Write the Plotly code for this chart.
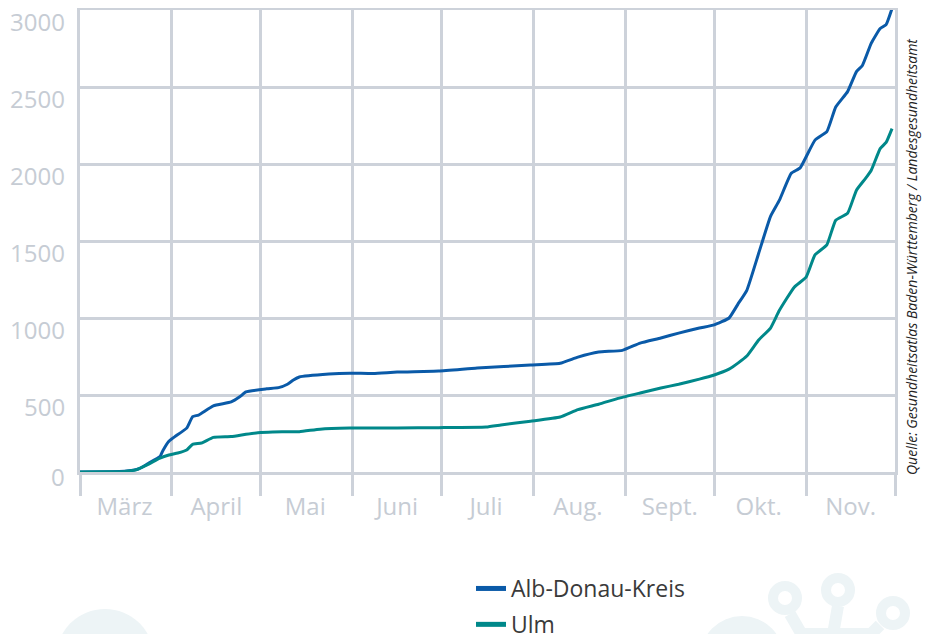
import plotly.graph_objects as go

# ---------------- data ----------------
alb_dates = ["2020-03-01", "2020-03-11", "2020-03-16", "2020-03-19", "2020-03-21", "2020-03-24",
             "2020-03-28", "2020-03-29", "2020-03-31", "2020-04-02", "2020-04-06", "2020-04-08",
             "2020-04-10", "2020-04-15", "2020-04-21", "2020-04-24", "2020-04-26", "2020-05-03",
             "2020-05-07", "2020-05-10", "2020-05-12", "2020-05-14", "2020-05-24", "2020-05-31",
             "2020-06-08", "2020-06-16", "2020-06-30", "2020-07-13", "2020-07-31", "2020-08-10",
             "2020-08-16", "2020-08-23", "2020-08-31", "2020-09-06", "2020-09-13", "2020-09-19",
             "2020-09-26", "2020-10-01", "2020-10-06", "2020-10-09", "2020-10-12", "2020-10-16",
             "2020-10-20", "2020-10-23", "2020-10-27", "2020-10-30", "2020-11-04", "2020-11-08",
             "2020-11-11", "2020-11-15", "2020-11-18", "2020-11-20", "2020-11-23", "2020-11-26",
             "2020-11-28", "2020-11-30"]
alb_values = [0, 2, 5, 12, 22, 55,
              100, 140, 200, 230, 285, 360,
              370, 430, 455, 490, 520, 540,
              548, 570, 597, 617, 636, 642,
              640, 649, 656, 675, 695, 706,
              746, 779, 790, 837, 870, 902,
              935, 955, 1000, 1090, 1180, 1420,
              1660, 1765, 1940, 1975, 2155, 2210,
              2370, 2470, 2600, 2640, 2785, 2880,
              2905, 3010]

ulm_dates = ["2020-03-01", "2020-03-11", "2020-03-16", "2020-03-20", "2020-03-24", "2020-03-28",
             "2020-03-31", "2020-04-03", "2020-04-06", "2020-04-08", "2020-04-11", "2020-04-15",
             "2020-04-21", "2020-04-26", "2020-04-30", "2020-05-05", "2020-05-14", "2020-05-21",
             "2020-05-31", "2020-06-16", "2020-06-30", "2020-07-16", "2020-07-21", "2020-07-31",
             "2020-08-10", "2020-08-16", "2020-08-23", "2020-08-30", "2020-09-06", "2020-09-13",
             "2020-09-19", "2020-09-26", "2020-10-01", "2020-10-06", "2020-10-09", "2020-10-12",
             "2020-10-16", "2020-10-20", "2020-10-23", "2020-10-28", "2020-11-01", "2020-11-04",
             "2020-11-08", "2020-11-11", "2020-11-15", "2020-11-18", "2020-11-21", "2020-11-23",
             "2020-11-26", "2020-11-28", "2020-11-30"]
ulm_values = [0, 1, 4, 15, 50, 90,
              110, 123, 143, 180, 188, 225,
              230, 245, 255, 260, 262, 278,
              285, 286, 288, 292, 305, 330,
              357, 405, 440, 480, 513, 545,
              570, 603, 630, 668, 707, 753,
              857, 935, 1050, 1200, 1265, 1410,
              1475, 1635, 1680, 1830, 1905, 1960,
              2100, 2140, 2230]

month_starts = ["2020-03-01", "2020-04-01", "2020-05-01", "2020-06-01", "2020-07-01",
                "2020-08-01", "2020-09-01", "2020-10-01", "2020-11-01", "2020-12-01"]
month_mids = ["2020-03-16", "2020-04-16", "2020-05-16", "2020-06-16", "2020-07-16",
              "2020-08-16", "2020-09-16", "2020-10-16", "2020-11-16"]
month_labels = ["März", "April", "Mai", "Juni", "Juli", "Aug.", "Sept.", "Okt.", "Nov."]
y_ticks = [0, 500, 1000, 1500, 2000, 2500, 3000]

series_names = ["Alb-Donau-Kreis", "Ulm"]
series_colors = ["#0a5aa8", "#00888a"]

# ---------------- layout constants ----------------
# page body has an 8px margin, so the figure is drawn 8px right/down in the window
OFF = 8
W, H = 931 - OFF, 634 - OFF
PL, PR, PT, PB = 80, 895, 10, 472          # plot area in window pixels
L, T = PL - OFF, PT - OFF
R, B = W - (PR - OFF), H - (PB - OFF)
PW, PH = PR - PL, PB - PT
GRID = "#cdd2da"
TICKFONT = "#c6ccd4"
DECO = "#edf4f6"


def px(x):
    return (x - PL) / PW


def py(y):
    return (PB - y) / PH


fig = go.Figure()
fig.add_trace(go.Scatter(x=alb_dates, y=alb_values, mode="lines", name=series_names[0],
                         line=dict(color=series_colors[0], width=3, shape="spline", smoothing=0.4),
                         showlegend=False))
fig.add_trace(go.Scatter(x=ulm_dates, y=ulm_values, mode="lines", name=series_names[1],
                         line=dict(color=series_colors[1], width=3, shape="spline", smoothing=0.4),
                         showlegend=False))
# legend entries (thicker line swatches)
for i, (n, c) in enumerate(zip(series_names, series_colors)):
    fig.add_trace(go.Scatter(x=[None], y=[None], mode="lines", name=n,
                             line=dict(color=c, width=5), legendgroup=f"g{i}"))

# decorative background shapes
shapes = []
r = 49
cx, cy = 105, 658
shapes.append(dict(type="circle", xref="paper", yref="paper", layer="below",
                   x0=px(cx - r), x1=px(cx + r), y0=py(cy + r), y1=py(cy - r),
                   fillcolor=DECO, line=dict(width=0)))
r = 42
cx, cy = 742, 658
shapes.append(dict(type="circle", xref="paper", yref="paper", layer="below",
                   x0=px(cx - r), x1=px(cx + r), y0=py(cy + r), y1=py(cy - r),
                   fillcolor=DECO, line=dict(width=0)))
rings = [(785, 598), (838, 590), (893, 613)]
for (cx, cy) in rings:
    rr = 12
    shapes.append(dict(type="circle", xref="paper", yref="paper", layer="below",
                       x0=px(cx - rr), x1=px(cx + rr), y0=py(cy + rr), y1=py(cy - rr),
                       fillcolor="rgba(0,0,0,0)", line=dict(color=DECO, width=10)))
stems = [((790, 614), (805, 640)), ((838, 606), (832, 640)), ((880, 625), (860, 645))]
for (a, b) in stems:
    shapes.append(dict(type="line", xref="paper", yref="paper", layer="below",
                       x0=px(a[0]), y0=py(a[1]), x1=px(b[0]), y1=py(b[1]),
                       line=dict(color=DECO, width=12)))
shapes.append(dict(type="rect", xref="paper", yref="paper", layer="below",
                   x0=px(798), x1=px(870), y0=py(650), y1=py(628),
                   fillcolor=DECO, line=dict(width=0)))

fig.update_layout(
    width=W, height=H,
    margin=dict(l=L, r=R, t=T, b=B, pad=0, autoexpand=False),
    paper_bgcolor="white", plot_bgcolor="white",
    font=dict(family="Open Sans, Noto Sans, sans-serif"),
    showlegend=True,
    legend=dict(x=px(471), y=py(567), xanchor="left", yanchor="top",
                font=dict(size=23, color="#3a3a3a", family="Open Sans, sans-serif"),
                bgcolor="rgba(0,0,0,0)", tracegroupgap=3, traceorder="grouped"),
    shapes=shapes,
    xaxis=dict(
        type="date", range=["2020-03-01", "2020-12-01"],
        tickmode="array", tickvals=month_mids, ticktext=month_labels,
        ticks="", showgrid=False, ticklabelstandoff=11,
        tickfont=dict(size=24, color=TICKFONT),
        showline=True, linecolor=GRID, linewidth=3, mirror=True,
        zeroline=False, automargin=False,
        minor=dict(tickmode="array", tickvals=month_starts, showgrid=True,
                   gridcolor=GRID, gridwidth=3, ticks="outside", ticklen=21,
                   tickwidth=3, tickcolor=GRID),
        fixedrange=True,
    ),
    yaxis=dict(
        range=[0, 3000], tickmode="array", tickvals=y_ticks,
        showgrid=True, gridcolor=GRID, gridwidth=3,
        ticks="", showticklabels=False,
        showline=True, linecolor=GRID, linewidth=3, mirror=True,
        zeroline=False, fixedrange=True, automargin=False,
    ),
)

# y-axis value labels (sit slightly below their grid lines, as in the original)
for v in y_ticks:
    fig.add_annotation(
        xref="paper", yref="y", x=px(67), y=v, yshift=-11 if v > 0 else -4,
        text=str(v), showarrow=False, xanchor="right", yanchor="middle",
        font=dict(size=24, color=TICKFONT, family="Open Sans, sans-serif"),
    )

fig.add_annotation(
    xref="paper", yref="paper", x=px(912), y=py(257), textangle=-90,
    text="<i>Quelle: Gesundheitsatlas Baden-Württemberg / Landesgesundheitsamt</i>",
    showarrow=False, font=dict(size=14, color="#222222", family="Open Sans, sans-serif"),
    xanchor="center", yanchor="middle",
)

fig.write_html("out.html")
